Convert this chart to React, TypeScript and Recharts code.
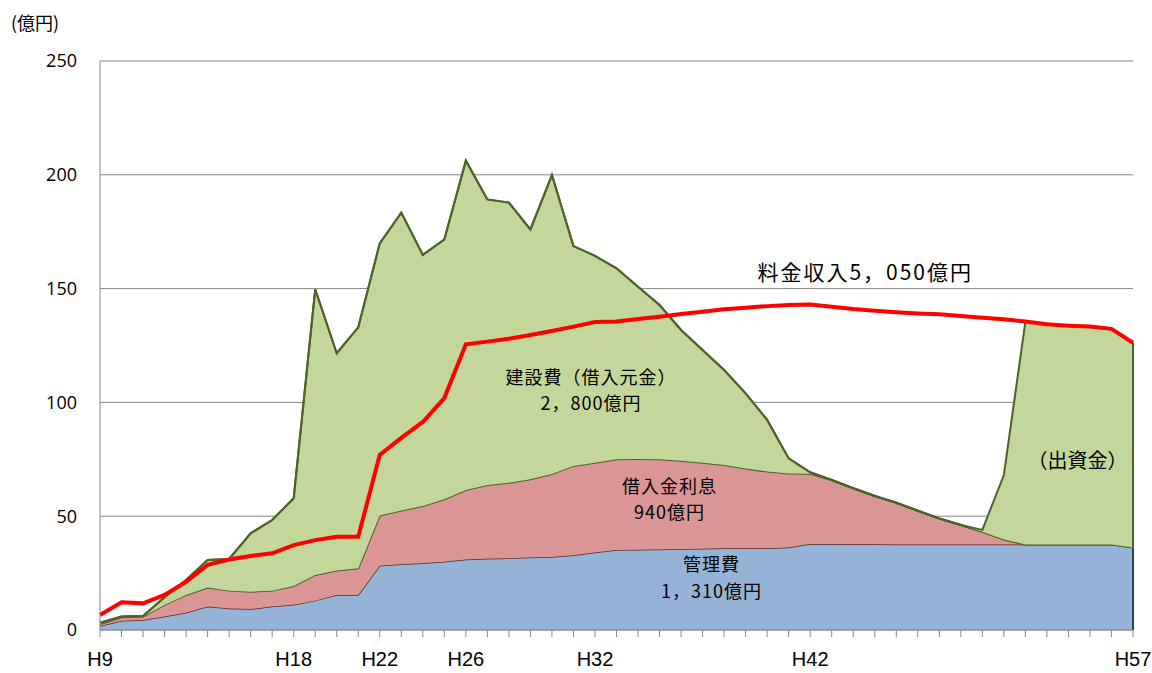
import {
  Area,
  CartesianGrid,
  ComposedChart,
  Line,
  ReferenceDot,
  ReferenceLine,
  XAxis,
  YAxis,
} from "recharts";

// 年度（平成）
const years = [
  "H9", "H10", "H11", "H12", "H13", "H14", "H15", "H16", "H17", "H18",
  "H19", "H20", "H21", "H22", "H23", "H24", "H25", "H26", "H27", "H28",
  "H29", "H30", "H31", "H32", "H33", "H34", "H35", "H36", "H37", "H38",
  "H39", "H40", "H41", "H42", "H43", "H44", "H45", "H46", "H47", "H48",
  "H49", "H50", "H51", "H52", "H53", "H54", "H55", "H56", "H57",
];

const labeledYears = ["H9", "H18", "H22", "H26", "H32", "H42", "H57"];

// 管理費（億円）
const kanri = [
  1.8, 4.1, 4.4, 5.9, 7.6, 10.3, 9.5, 9.2, 10.3, 11.1,
  12.9, 15.4, 15.4, 28.2, 28.9, 29.3, 30.0, 31.0, 31.3, 31.5,
  31.8, 32.1, 32.8, 34.0, 35.1, 35.3, 35.4, 35.6, 35.7, 35.9,
  35.9, 35.9, 36.2, 37.8, 37.8, 37.7, 37.7, 37.6, 37.6, 37.6,
  37.6, 37.6, 37.6, 37.6, 37.6, 37.6, 37.6, 37.6, 36.3,
];

// 借入金利息（億円）
const risoku = [
  0.8, 1.5, 1.5, 5.1, 7.8, 8.4, 7.8, 7.6, 7.0, 8.2,
  11.3, 10.7, 11.7, 22.1, 23.6, 25.2, 27.4, 30.5, 32.4, 33.2,
  34.4, 36.4, 39.3, 39.5, 39.9, 39.8, 39.6, 38.8, 37.8, 36.6,
  35.1, 33.7, 32.6, 30.8, 28.1, 24.6, 21.2, 18.3, 14.8, 11.4,
  8.5, 5.6, 2.2, 0, 0, 0, 0, 0, 0,
];

// 建設費（借入元金）（億円）
const kensetsu = [
  0.6, 0.3, 0.3, 3.4, 6.6, 12.1, 13.9, 25.7, 31.0, 38.6,
  125.5, 95.5, 105.9, 119.6, 130.9, 110.3, 114.2, 144.7, 125.5, 123.1,
  109.8, 131.4, 96.6, 90.9, 83.9, 75.7, 67.8, 57.4, 49.5, 41.7,
  33.0, 22.7, 6.6, 0.7, 0, 0, 0, 0, 0, 0,
  0, 0, 0, 0, 0, 0, 0, 0, 0,
];

// 出資金（億円）
const shusshi = [
  0, 0, 0, 0, 0, 0, 0, 0, 0, 0,
  0, 0, 0, 0, 0, 0, 0, 0, 0, 0,
  0, 0, 0, 0, 0, 0, 0, 0, 0, 0,
  0, 0, 0, 0, 0, 0, 0, 0, 0, 0,
  0, 0.8, 28.3, 97.9, 96.7, 96.1, 95.7, 94.7, 89.9,
];

// 料金収入（億円）
const ryokin = [
  6.6, 12.2, 11.7, 15.4, 21.2, 28.6, 31.0, 32.5, 33.7, 37.3,
  39.5, 41.0, 41.0, 76.9, 84.4, 91.4, 101.9, 125.5, 126.7, 128.0,
  129.6, 131.4, 133.3, 135.3, 135.5, 136.6, 137.6, 138.8, 139.8, 140.9,
  141.6, 142.3, 142.8, 143.0, 142.0, 141.0, 140.3, 139.6, 139.1, 138.7,
  138.0, 137.2, 136.5, 135.5, 134.3, 133.7, 133.3, 132.3, 126.2,
];

const yTicks = [0, 50, 100, 150, 200, 250];

const rows = years.map((year, i) => ({
  year,
  kanri: kanri[i],
  risoku: risoku[i],
  kensetsu: kensetsu[i],
  shusshi: shusshi[i],
  ryokin: ryokin[i],
}));

const last = years.length - 1;
const lastTop = kanri[last] + risoku[last] + kensetsu[last] + shusshi[last];

const JP_FONT = "'Noto Sans CJK JP', 'Noto Sans', sans-serif";
const OLIVE = "#4F6228";
const GRID = "#868686";

// 複数行の注記（ReferenceDot の位置を中心に描く）
function NoteLabel({
  viewBox,
  lines,
  dx = 0,
  gap = 26.2,
  size = 18,
  spacing = 1,
}: {
  viewBox?: { x: number; y: number; width: number; height: number };
  lines: string[];
  dx?: number;
  gap?: number;
  size?: number;
  spacing?: number;
}) {
  if (!viewBox) return null;
  const cx = viewBox.x + viewBox.width / 2 + dx;
  const cy = viewBox.y + viewBox.height / 2;
  const start = cy - ((lines.length - 1) * gap) / 2;
  return (
    <g>
      {lines.map((l, i) => (
        <text
          key={i}
          x={cx}
          y={start + i * gap}
          textAnchor="middle"
          dominantBaseline="central"
          fontFamily={JP_FONT}
          fontSize={size}
          letterSpacing={spacing}
          fill="#000"
        >
          {l}
        </text>
      ))}
    </g>
  );
}

export default function App() {
  return (
    <div
      style={{
        position: "absolute",
        left: 0,
        top: 0,
        width: 1152,
        height: 673,
        background: "#fff",
      }}
    >
      <div
        style={{
          position: "absolute",
          left: 11,
          top: 9,
          fontFamily: JP_FONT,
          fontSize: 18,
          color: "#000",
        }}
      >
        (億円)
      </div>
      <ComposedChart
        width={1152}
        height={673}
        data={rows}
        margin={{ top: 61, right: 19, bottom: 13, left: 20 }}
      >
        <CartesianGrid vertical={false} stroke={GRID} />
        <XAxis
          dataKey="year"
          interval={0}
          tickSize={7}
          tickMargin={15}
          axisLine={{ stroke: GRID }}
          tickLine={{ stroke: GRID }}
          tick={{
            fill: "#000",
            fontSize: 20,
            fontFamily: "'Liberation Sans Narrow', 'Liberation Sans', sans-serif",
          }}
          tickFormatter={(v: string) => (labeledYears.includes(v) ? v : "")}
        />
        <YAxis
          width={80}
          domain={[0, 250]}
          ticks={yTicks}
          tickLine={false}
          tickMargin={17}
          axisLine={{ stroke: GRID }}
          tick={{ fill: "#000", fontSize: 18, fontFamily: "'Open Sans', sans-serif" }}
        />
        <Area
          type="linear"
          dataKey="kanri"
          name="管理費"
          stackId="s"
          fill="#95B3D7"
          fillOpacity={1}
          stroke="#632523"
          strokeWidth={1.5}
          dot={false}
          activeDot={false}
          isAnimationActive={false}
        />
        <Area
          type="linear"
          dataKey="risoku"
          name="借入金利息"
          stackId="s"
          fill="#D99694"
          fillOpacity={1}
          stroke={OLIVE}
          strokeWidth={2}
          dot={false}
          activeDot={false}
          isAnimationActive={false}
        />
        <Area
          type="linear"
          dataKey="kensetsu"
          name="建設費（借入元金）"
          stackId="s"
          fill="#C4D79B"
          fillOpacity={1}
          stroke={OLIVE}
          strokeWidth={2}
          dot={false}
          activeDot={false}
          isAnimationActive={false}
        />
        <Area
          type="linear"
          dataKey="shusshi"
          name="出資金"
          stackId="s"
          fill="#C4D79B"
          fillOpacity={1}
          stroke={OLIVE}
          strokeWidth={2}
          dot={false}
          activeDot={false}
          isAnimationActive={false}
        />
        <ReferenceLine
          segment={[
            { x: years[last], y: 0 },
            { x: years[last], y: kanri[last] },
          ]}
          stroke="#254061"
          strokeWidth={2}
        />
        <ReferenceLine
          segment={[
            { x: years[last], y: kanri[last] },
            { x: years[last], y: lastTop },
          ]}
          stroke={OLIVE}
          strokeWidth={2}
        />
        <Line
          type="linear"
          dataKey="ryokin"
          name="料金収入"
          stroke="#FF0000"
          strokeWidth={4}
          dot={false}
          activeDot={false}
          isAnimationActive={false}
        />
        <ReferenceDot
          x="H44"
          y={157.7}
          r={1}
          fill="none"
          stroke="none"
          label={(p: any) => (
            <NoteLabel {...p} dx={12} size={21} spacing={2} lines={["料金収入5，050億円"]} />
          )}
        />
        <ReferenceDot
          x="H32"
          y={105.9}
          r={1}
          fill="none"
          stroke="none"
          label={(p: any) => (
            <NoteLabel {...p} dx={-4} lines={["建設費（借入元金）", "2，800億円"]} />
          )}
        />
        <ReferenceDot
          x="H35"
          y={58}
          r={1}
          fill="none"
          stroke="none"
          label={(p: any) => <NoteLabel {...p} dx={10} lines={["借入金利息", "940億円"]} />}
        />
        <ReferenceDot
          x="H37"
          y={23.5}
          r={1}
          fill="none"
          stroke="none"
          label={(p: any) => <NoteLabel {...p} dx={9} lines={["管理費", "1，310億円"]} />}
        />
        <ReferenceDot
          x="H54"
          y={75.1}
          r={1}
          fill="none"
          stroke="none"
          label={(p: any) => <NoteLabel {...p} dx={9} size={20} spacing={0} lines={["（出資金）"]} />}
        />
      </ComposedChart>
    </div>
  );
}
